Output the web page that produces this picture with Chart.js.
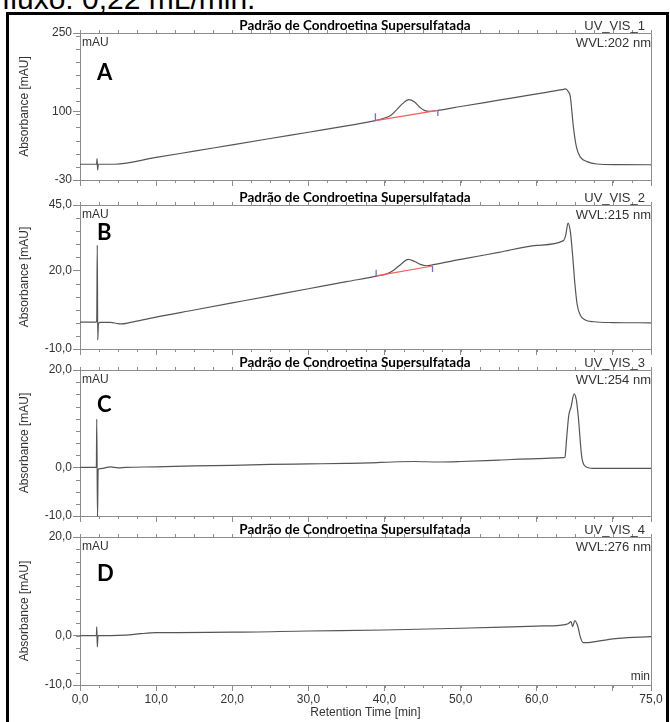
<!DOCTYPE html>
<html>
<head>
<meta charset="utf-8">
<script src="https://cdn.jsdelivr.net/npm/chart.js@4.4.1/dist/chart.umd.min.js"></script>
<style>
  html, body { margin: 0; padding: 0; background: #fff; }
  #wrap { position: relative; width: 670px; height: 722px; overflow: hidden; background: #fff; }
  #note { position: absolute; left: 2px; top: -16px; font: 30px/30px "Liberation Sans", Arial, sans-serif; color: #000; white-space: nowrap; }
  #frame { position: absolute; left: 6px; top: 12px; width: 663px; height: 730px; border: 3px solid #000; box-sizing: border-box; background: transparent; }
  canvas { position: absolute; left: 0; top: 0; }
</style>
</head>
<body>
<div id="wrap">
  <div id="note">fluxo: 0,22 mL/min.</div>
  <div id="frame"></div>
  <canvas id="cA" width="670" height="722"></canvas>
  <canvas id="cB" width="670" height="722"></canvas>
  <canvas id="cC" width="670" height="722"></canvas>
  <canvas id="cD" width="670" height="722"></canvas>
</div>
<script>
// ---- Retention-time axis ----
const xTickValues = [0, 10, 20, 30, 40, 50, 60, 70, 75];
const xTickLabels = ['0,0', '10,0', '20,0', '30,0', '40,0', '50,0', '60,0', '', '75,0'];

// ---- A: UV_VIS_1, 202 nm ----
const timeA = [0, 2.18, 2.24, 2.32, 2.4, 4.6, 10, 15, 20, 25, 30, 35, 38.8, 39.8, 40.8, 41.6, 42.4, 43.2, 43.9, 44.6, 45.3, 46.0, 47.2, 50, 55, 60, 63.3, 63.8, 64.1, 64.4, 64.8, 65.2, 65.7, 66.6, 67.9, 70.5, 75];
const absA  = [0, 0, 11, -11, 0, 0, 13, 25, 37, 49, 61, 73, 83, 87, 93, 104, 116, 123, 119, 109, 102, 101, 103, 110, 122, 134, 142, 143.5, 139, 129, 72, 33, 14, 5, 0.5, -0.8, -1];
const baseTimeA = [38.8, 47.0];
const baseAbsA  = [83, 102.5];
const markTopA  = [97, 92];      // integration delimiters (start mark up, end mark down)
const yTicksA = [-30, 100, 250];

// ---- B: UV_VIS_2, 215 nm ----
const timeB = [0, 2.15, 2.2, 2.27, 2.33, 2.42, 2.6, 4.0, 5.0, 5.5, 6.5, 10, 15, 20, 25, 30, 35, 39.1, 40.2, 41.2, 42.2, 43.1, 43.9, 44.7, 45.5, 46.4, 50, 55, 60, 63.5, 63.8, 64.1, 64.4, 64.7, 65.0, 65.3, 65.7, 66.3, 67.5, 70, 75];
const absB  = [0.3, 0.3, 1, 29.7, -6.6, -0.5, 0.2, 0.2, -0.3, -0.4, 0.1, 2.2, 4.9, 7.6, 10.3, 13.0, 15.7, 17.9, 18.6, 20.1, 22.5, 24.2, 23.5, 22.3, 21.8, 22.2, 24.2, 26.9, 29.6, 31.4, 33.5, 38.1, 35, 26, 15, 7, 3, 1.2, 0.4, 0.1, 0.0];
const baseTimeB = [38.9, 46.3];
const baseAbsB  = [17.9, 21.7];
const markTopB  = [20.3, 19.4];
const yTicksB = [-10, 20, 45];

// ---- C: UV_VIS_3, 254 nm ----
const timeC = [0, 2.15, 2.2, 2.3, 2.38, 2.5, 3.0, 4.0, 5.0, 6.0, 10, 15, 20, 25, 30, 35, 38, 41, 44, 47, 50, 55, 60, 63.5, 63.7, 63.9, 64.2, 64.5, 64.9, 65.2, 65.45, 65.9, 66.3, 67.4, 70, 75];
const absC  = [0, 0, 9.9, -10.4, -0.5, -0.3, -0.2, 0.1, -0.1, 0.0, 0.1, 0.3, 0.4, 0.6, 0.7, 0.8, 0.9, 1.1, 1.2, 1.1, 1.2, 1.5, 1.8, 2.0, 2.1, 5.6, 10.7, 12.4, 15.1, 13.8, 10.4, 2.2, 0.3, -0.2, -0.2, -0.2];
const yTicksC = [-10, 0, 20];

// ---- D: UV_VIS_4, 276 nm ----
const timeD = [0, 2.15, 2.2, 2.28, 2.36, 2.5, 4, 6, 8, 10, 20, 30, 40, 50, 60, 63, 64.1, 64.5, 64.7, 65.0, 65.4, 65.7, 66.1, 66.8, 68.5, 70.7, 75];
const absD  = [0, 0, 1.8, -2.3, 0.0, 0, 0, 0.1, 0.4, 0.6, 0.7, 0.95, 1.15, 1.5, 1.95, 2.1, 2.4, 2.85, 1.85, 3.05, 1.8, -0.2, -1.4, -1.4, -1.0, -0.55, -0.2];
const yTicksD = [-10, 0, 20];

Chart.defaults.font.family = '"Liberation Sans", Arial, sans-serif';
Chart.defaults.font.size = 12;
Chart.defaults.color = '#333';

const AXIS = '#8c8c8c';
const TRACE = '#555';

const pts = (t, v) => t.map((x, i) => ({ x, y: v[i] }));
const fmt = (v, d) => v.toFixed(d).replace('.', ',');

// Panel furniture: top/right frame, minor ticks, captions, channel info
const panelDecor = {
  id: 'panelDecor',
  afterDraw(chart, args, o) {
    const { ctx, chartArea: a, scales: { x, y } } = chart;
    ctx.save();
    ctx.strokeStyle = AXIS;
    ctx.lineWidth = 1;
    ctx.beginPath();
    ctx.moveTo(a.left, Math.round(a.top) + 0.5);
    ctx.lineTo(Math.round(a.right) + 0.5, Math.round(a.top) + 0.5);
    ctx.lineTo(Math.round(a.right) + 0.5, a.bottom);
    // minor y ticks
    for (let v = o.yMin; v <= o.yMax + 1e-9; v += o.yMinor) {
      const py = Math.round(y.getPixelForValue(v)) + 0.5;
      ctx.moveTo(a.left - 4, py); ctx.lineTo(a.left, py);
    }
    // minor x ticks, top and bottom
    for (let t = 0; t <= 75 + 1e-9; t += 2.5) {
      const px = Math.round(x.getPixelForValue(t)) + 0.5;
      ctx.moveTo(px, a.bottom); ctx.lineTo(px, a.bottom + 3);
      ctx.moveTo(px, a.top - 3); ctx.lineTo(px, a.top);
    }
    ctx.stroke();

    // captions
    ctx.fillStyle = '#000';
    ctx.textBaseline = 'alphabetic';
    ctx.font = 'bold 13.5px Lato, "Open Sans", sans-serif';
    ctx.textAlign = 'center';
    ctx.fillText(o.title, 355, a.top - 3);

    ctx.fillStyle = '#333';
    ctx.font = '13px "Liberation Sans", Arial, sans-serif';
    ctx.textAlign = 'right';
    ctx.fillText(o.channel, 645, a.top - 3);
    ctx.fillText(o.wvl, a.right, a.top + 14);

    ctx.font = '12px "Liberation Sans", Arial, sans-serif';
    ctx.textAlign = 'left';
    ctx.fillText('mAU', a.left + 2, a.top + 13);
    if (o.unitX) {
      ctx.textAlign = 'right';
      ctx.fillText(o.unitX, a.right - 1, a.bottom - 5);
    }

    ctx.fillStyle = '#000';
    ctx.font = 'bold 22px Lato, "Open Sans", sans-serif';
    ctx.textAlign = 'left';
    ctx.fillText(o.letter, 97, o.letterBase);
    ctx.restore();
  }
};

function panel(id, cfg) {
  const last = !!cfg.last;
  const datasets = [{
    data: pts(cfg.time, cfg.abs),
    borderColor: TRACE, borderWidth: 1.2, pointRadius: 0,
    cubicInterpolationMode: 'monotone', order: 2
  }];
  if (cfg.baseTime) {
    datasets.push({
      data: pts(cfg.baseTime, cfg.baseAbs),
      borderColor: '#ff5a5a', borderWidth: 1.2, pointRadius: 0, order: 1
    });
    cfg.baseTime.forEach((t, i) => {
      datasets.push({
        data: [{ x: t, y: cfg.baseAbs[i] }, { x: t, y: cfg.markTop[i] }],
        borderColor: '#6a6aff', borderWidth: 1.3, pointRadius: 0, order: 0
      });
    });
  }
  const xh = last ? 37 : 10;
  return new Chart(document.getElementById(id), {
    type: 'line',
    data: { datasets },
    options: {
      responsive: false,
      animation: false,
      devicePixelRatio: 1,
      layout: { padding: { left: 0, right: 19, top: cfg.top, bottom: 722 - cfg.bottom - xh } },
      plugins: {
        legend: { display: false },
        tooltip: { enabled: false },
        panelDecor: {
          title: 'Padrão de Condroetina Supersulfatada',
          channel: cfg.channel, wvl: cfg.wvl, letter: cfg.letter, letterBase: cfg.letterBase,
          yMin: cfg.yMin, yMax: cfg.yMax, yMinor: cfg.yMinor,
          unitX: last ? 'min' : ''
        }
      },
      scales: {
        x: {
          type: 'linear', min: 0, max: 75,
          afterFit: s => { s.height = xh; },
          afterBuildTicks: s => { s.ticks = xTickValues.map(v => ({ value: v })); },
          grid: { drawOnChartArea: false, tickLength: 6, color: AXIS },
          border: { color: AXIS },
          ticks: {
            display: last, autoSkip: false, maxRotation: 0, padding: 1, color: '#333',
            callback: v => xTickLabels[xTickValues.indexOf(v)]
          },
          title: { display: last, text: 'Retention Time [min]', color: '#333', padding: { top: 0, bottom: 2 } }
        },
        y: {
          min: cfg.yMin, max: cfg.yMax,
          afterFit: s => { s.width = 80; },
          afterBuildTicks: s => { s.ticks = cfg.yTicks.map(v => ({ value: v })); },
          grid: { drawOnChartArea: false, tickLength: 7, color: AXIS },
          border: { color: AXIS },
          ticks: { padding: 1, color: '#333', callback: v => fmt(v, cfg.dec) },
          title: { display: true, text: 'Absorbance [mAU]', color: '#333', padding: { top: 17 } }
        }
      }
    },
    plugins: [panelDecor]
  });
}

panel('cA', { time: timeA, abs: absA, baseTime: baseTimeA, baseAbs: baseAbsA, markTop: markTopA,
  top: 33, bottom: 180, yMin: -30, yMax: 250, yMinor: 25, yTicks: yTicksA, dec: 0,
  channel: 'UV_VIS_1', wvl: 'WVL:202 nm', letter: 'A', letterBase: 80 });
panel('cB', { time: timeB, abs: absB, baseTime: baseTimeB, baseAbs: baseAbsB, markTop: markTopB,
  top: 205, bottom: 349, yMin: -10, yMax: 45, yMinor: 5, yTicks: yTicksB, dec: 1,
  channel: 'UV_VIS_2', wvl: 'WVL:215 nm', letter: 'B', letterBase: 240 });
panel('cC', { time: timeC, abs: absC,
  top: 370, bottom: 516, yMin: -10, yMax: 20, yMinor: 2.5, yTicks: yTicksC, dec: 1,
  channel: 'UV_VIS_3', wvl: 'WVL:254 nm', letter: 'C', letterBase: 412 });
panel('cD', { time: timeD, abs: absD, last: true,
  top: 537, bottom: 685, yMin: -10, yMax: 20, yMinor: 2.5, yTicks: yTicksD, dec: 1,
  channel: 'UV_VIS_4', wvl: 'WVL:276 nm', letter: 'D', letterBase: 581 });
</script>
</body>
</html>
